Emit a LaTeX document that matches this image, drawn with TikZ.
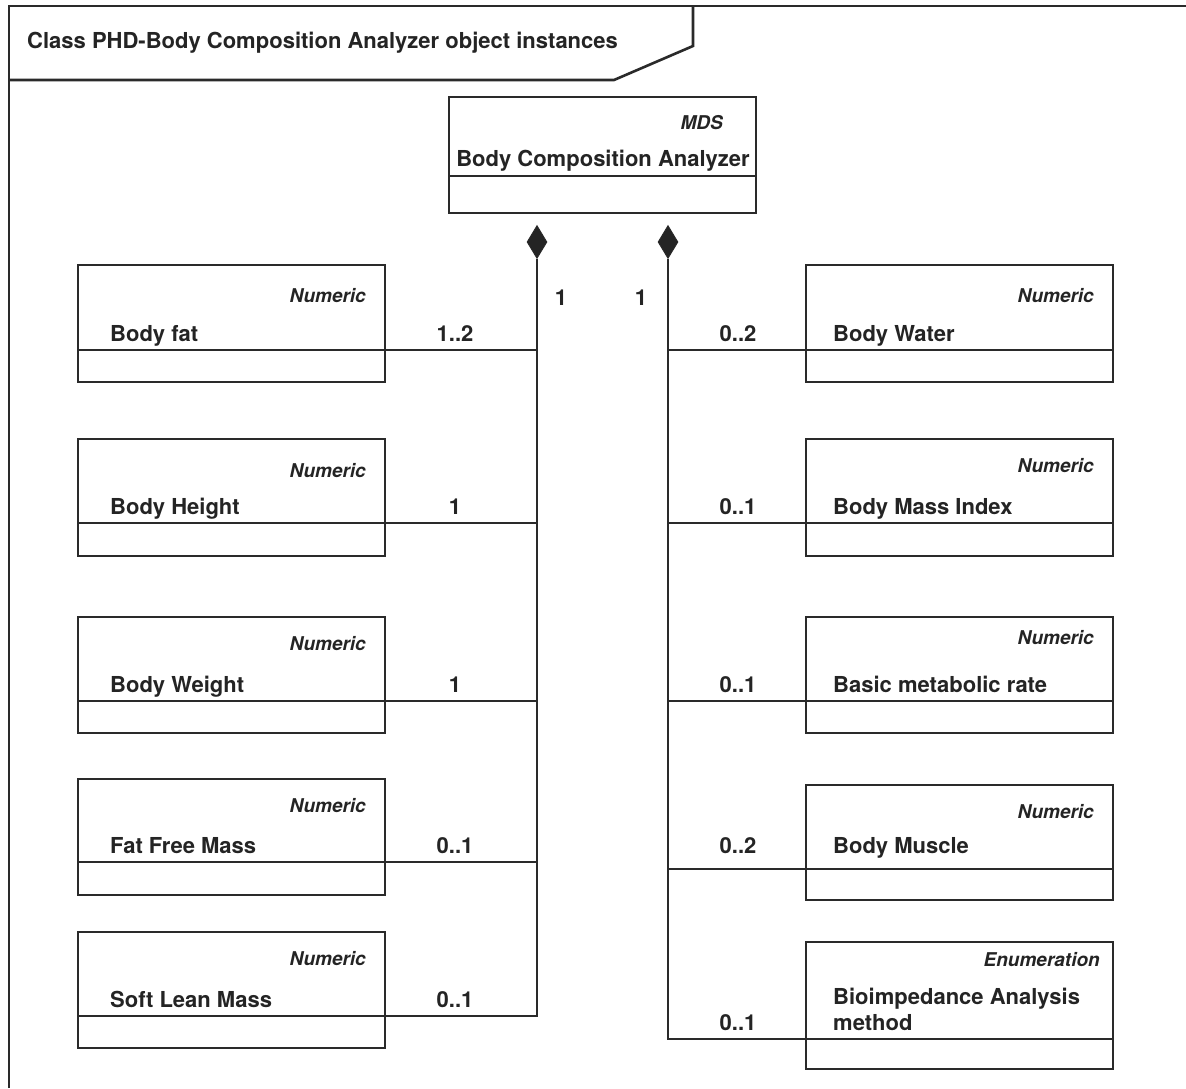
\documentclass[tikz,border=0pt]{standalone}
\usepackage{fontspec}
\setmainfont{TeX Gyre Heros}
\usetikzlibrary{shapes.geometric}
\definecolor{linec}{HTML}{2A2A2A}
\definecolor{txtc}{HTML}{242424}
\tikzset{
  cbox/.style={draw=linec, line width=2.5pt, fill=white, rectangle, inner sep=0pt, outer sep=0pt, anchor=north west},
  nm/.style={font=\fontsize{22}{26}\selectfont\bfseries, text=txtc, anchor=base west, inner sep=0pt, align=left},
  st/.style={font=\fontsize{19}{22}\selectfont\bfseries\itshape, text=txtc, anchor=base east, inner sep=0pt},
  mult/.style={font=\fontsize{22}{26}\selectfont\bfseries, text=txtc, anchor=base, inner sep=0pt},
  conn/.style={draw=linec, line width=2.5pt},
  frameline/.style={draw=linec, line width=2.6pt},
  comp/.style={diamond, draw=linec, fill=txtc, line width=0.8pt, minimum width=20pt, minimum height=33pt, inner sep=0pt},
}
% #1 id, #2 x, #3 top, #4 height, #5 divider offset, #6 stereotype offset, #7 stereotype, #8 name, #9 name shifts
\newcommand\ClsBox[9]{%
  \node[cbox, minimum width=307pt, minimum height=#4pt] (#1) at (#2,#3) {};
  \coordinate (#1w) at ([yshift=-#5pt]#1.north west);
  \coordinate (#1e) at ([yshift=-#5pt]#1.north east);
  \draw[conn] (#1w) -- (#1e);
  \node[st] (#1s) at ([xshift=-19pt, yshift=-#6pt]#1.north east) {#7};
  \node[nm] (#1n) at ([#9]#1w) {#8};
}
\begin{document}
\begin{tikzpicture}[x=1pt, y=-1pt]
\useasboundingbox[fill=white] (0,0) rectangle (1186,1088);
% frame
\coordinate (fbl) at (9,1088);
\coordinate (ftl) at (9,6);
\coordinate (ftr) at (1186,6);
\draw[frameline] (fbl) -- (ftl) -- (ftr);
\coordinate (tab1) at (9,80);
\coordinate (tab2) at (614,80);
\coordinate (tab3) at (693,46);
\coordinate (tab4) at (693,6);
\draw[frameline] (tab1) -- (tab2) -- (tab3) -- (tab4);
\node[nm] (title) at (27,48) {Class PHD-Body Composition Analyzer object instances};

% main class
\node[cbox, minimum width=307pt, minimum height=116pt] (bca) at (449,97) {};
\coordinate (bcaw) at ([yshift=-79pt]bca.north west);
\coordinate (bcae) at ([yshift=-79pt]bca.north east);
\draw[conn] (bcaw) -- (bcae);
\node[st] (bcas) at (723,129) {MDS};
\node[mult] (bcan) at (603,166) {Body Composition Analyzer};

% diamonds
\node[comp] (dl) at (537,242) {};
\node[comp] (dr) at (668,242) {};
\node[mult] (onel) at (561,305) {1};
\node[mult] (oner) at (641,305) {1};

% left boxes
\ClsBox{bf}{78}{265}{117}{85}{37}{Numeric}{Body fat}{xshift=32pt, yshift=9pt}
\ClsBox{bh}{78}{439}{117}{84}{38}{Numeric}{Body Height}{xshift=32pt, yshift=9pt}
\ClsBox{bw}{78}{617}{116}{84}{33}{Numeric}{Body Weight}{xshift=32pt, yshift=9pt}
\ClsBox{ffm}{78}{779}{116}{83}{33}{Numeric}{Fat Free Mass}{xshift=32pt, yshift=9pt}
\ClsBox{slm}{78}{932}{116}{84}{33}{Numeric}{Soft Lean Mass}{xshift=32pt, yshift=9pt}

% right boxes
\ClsBox{bwa}{806}{265}{117}{85}{37}{Numeric}{Body Water}{xshift=27pt, yshift=9pt}
\ClsBox{bmi}{806}{439}{117}{84}{33}{Numeric}{Body Mass Index}{xshift=27pt, yshift=9pt}
\ClsBox{bmr}{806}{617}{116}{84}{27}{Numeric}{Basic metabolic rate}{xshift=27pt, yshift=9pt}
\ClsBox{bmu}{806}{785}{115}{84}{33}{Numeric}{Body Muscle}{xshift=27pt, yshift=16pt}
\node[cbox, minimum width=307pt, minimum height=127pt] (bio) at (806,942) {};
\coordinate (biow) at ([yshift=-97pt]bio.north west);
\coordinate (bioe) at ([yshift=-97pt]bio.north east);
\draw[conn] (biow) -- (bioe);
\node[st] (bios) at ([xshift=-13pt, yshift=-24pt]bio.north east) {Enumeration};
\node[nm, anchor=north west] (bion) at ([xshift=27pt, yshift=-46pt]bio.north west) {Bioimpedance Analysis\\method};

% connectors left
\draw[conn] (dl.south) -- (slme -| dl) -- (slme);
\foreach \b in {bf,bh,bw,ffm} { \draw[conn] (\b e) -- (\b e -| dl); }
% connectors right
\draw[conn] (dr.south) -- (biow -| dr) -- (biow);
\foreach \b in {bwa,bmi,bmr,bmu} { \draw[conn] (\b w) -- (\b w -| dr); }

% multiplicities
\node[mult] (mbf) at (455,341) {1..2};
\node[mult] (mbh) at (455,514) {1};
\node[mult] (mbw) at (455,692) {1};
\node[mult] (mffm) at (455,853) {0..1};
\node[mult] (mslm) at (455,1007) {0..1};
\node[mult] (mbwa) at (738,341) {0..2};
\node[mult] (mbmi) at (738,514) {0..1};
\node[mult] (mbmr) at (738,692) {0..1};
\node[mult] (mbmu) at (738,853) {0..2};
\node[mult] (mbio) at (738,1030) {0..1};
\end{tikzpicture}
\end{document}
